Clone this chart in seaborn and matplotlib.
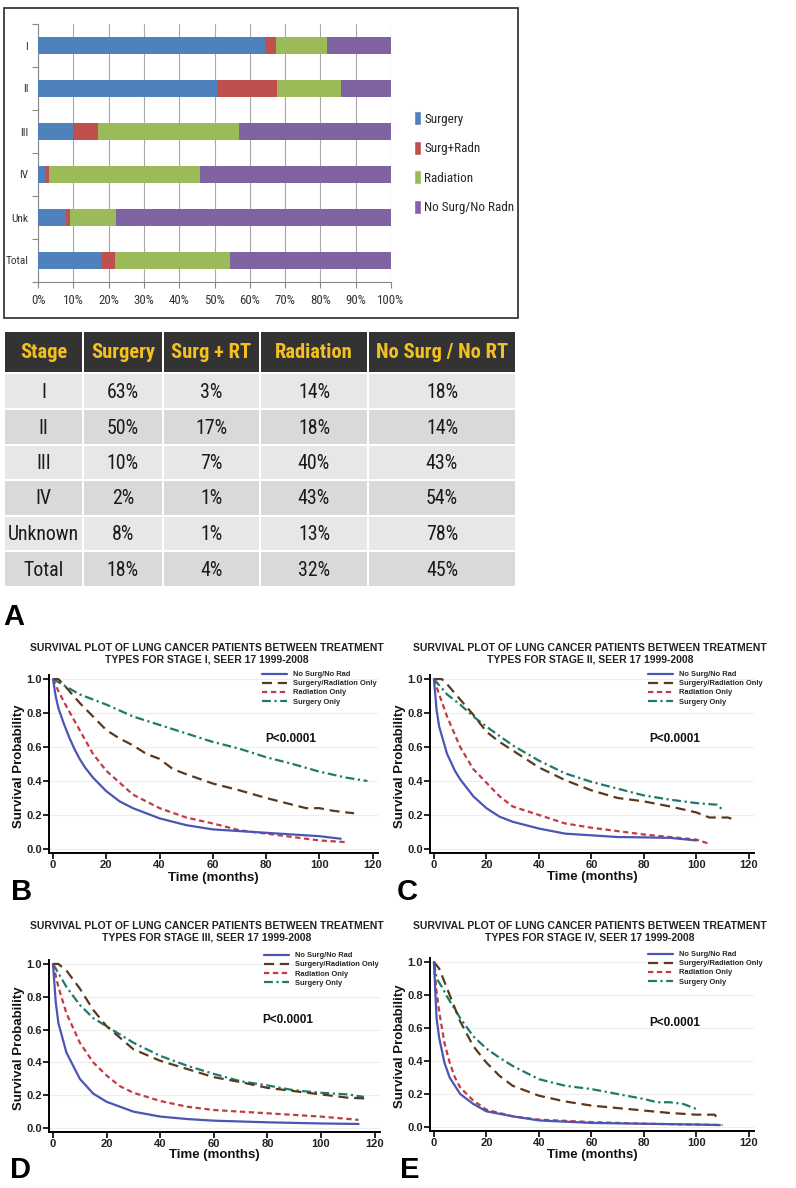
import numpy as np
import pandas as pd
import matplotlib
matplotlib.use("Agg")
import matplotlib.pyplot as plt
import seaborn as sns
from matplotlib.patches import Rectangle, Patch
from matplotlib import font_manager as fm
from matplotlib.font_manager import FontProperties

# ---------------- data: stacked bar chart (percent of patients) ----------------
stages = ["I", "II", "III", "IV", "Unk", "Total"]
bar_surgery = [64.3, 50.6, 10.0, 1.9, 8.0, 18.0]
bar_surg_radn = [3.0, 17.1, 7.0, 1.1, 1.0, 3.8]
bar_radiation = [14.5, 18.2, 40.0, 43.0, 13.1, 32.5]
bar_no_surg = [18.2, 14.1, 43.0, 54.0, 77.9, 45.7]
bar_labels = ["Surgery", "Surg+Radn", "Radiation", "No Surg/No Radn"]

# ---------------- data: table ----------------
tbl_header = ["Stage", "Surgery", "Surg + RT", "Radiation", "No Surg / No RT"]
tbl_stage = ["I", "II", "III", "IV", "Unknown", "Total"]
tbl_surgery = ["63%", "50%", "10%", "2%", "8%", "18%"]
tbl_surg_rt = ["3%", "17%", "7%", "1%", "1%", "4%"]
tbl_radiation = ["14%", "18%", "40%", "43%", "13%", "32%"]
tbl_none = ["18%", "14%", "43%", "54%", "78%", "45%"]

# ---------------- data: survival curves ----------------
curve_labels = ["No Surg/No Rad", "Surgery/Radiation Only", "Radiation Only", "Surgery Only"]

# Stage I (B)
b_t_none = [0, 1, 2, 4, 6, 8, 10, 12, 15, 20, 25, 30, 40, 50, 60, 70, 80, 90, 100, 108]
b_s_none = [1.0, 0.90, 0.83, 0.74, 0.66, 0.59, 0.53, 0.48, 0.42, 0.34, 0.28, 0.24, 0.18, 0.14, 0.115, 0.105, 0.095, 0.085, 0.075, 0.06]
b_t_sr = [0, 2, 5, 10, 15, 20, 25, 30, 35, 40, 45, 50, 60, 70, 80, 90, 95, 100, 105, 110, 113]
b_s_sr = [1.0, 1.0, 0.95, 0.86, 0.78, 0.70, 0.65, 0.61, 0.56, 0.53, 0.47, 0.44, 0.385, 0.345, 0.30, 0.26, 0.24, 0.24, 0.225, 0.215, 0.21]
b_t_rad = [0, 2, 5, 10, 15, 20, 25, 30, 40, 50, 60, 70, 80, 90, 100, 110]
b_s_rad = [1.0, 0.93, 0.84, 0.70, 0.56, 0.46, 0.39, 0.32, 0.24, 0.185, 0.15, 0.11, 0.09, 0.07, 0.05, 0.04]
b_t_surg = [0, 10, 20, 30, 40, 50, 60, 70, 80, 90, 100, 110, 118]
b_s_surg = [1.0, 0.91, 0.85, 0.78, 0.73, 0.68, 0.63, 0.59, 0.54, 0.50, 0.455, 0.42, 0.40]

# Stage II (C)
c_t_none = [0, 1, 2, 5, 8, 10, 15, 20, 25, 30, 40, 50, 60, 70, 80, 90, 100]
c_s_none = [1.0, 0.82, 0.72, 0.56, 0.46, 0.41, 0.31, 0.24, 0.19, 0.16, 0.12, 0.09, 0.08, 0.07, 0.068, 0.065, 0.05]
c_t_sr = [0, 3, 5, 10, 15, 20, 25, 30, 40, 50, 60, 70, 80, 90, 100, 105, 112, 115]
c_s_sr = [1.0, 1.0, 0.97, 0.88, 0.79, 0.69, 0.63, 0.58, 0.48, 0.405, 0.345, 0.30, 0.28, 0.25, 0.215, 0.185, 0.185, 0.17]
c_t_rad = [0, 2, 5, 10, 15, 20, 25, 30, 40, 50, 60, 70, 80, 90, 100, 105]
c_s_rad = [1.0, 0.91, 0.78, 0.60, 0.47, 0.39, 0.31, 0.25, 0.20, 0.15, 0.125, 0.105, 0.085, 0.07, 0.055, 0.03]
c_t_surg = [0, 5, 10, 15, 20, 30, 40, 50, 60, 70, 80, 90, 100, 108, 110]
c_s_surg = [1.0, 0.91, 0.85, 0.78, 0.72, 0.61, 0.52, 0.445, 0.395, 0.355, 0.315, 0.29, 0.27, 0.26, 0.23]

# Stage III (D)
d_t_none = [0, 1, 2, 5, 10, 15, 20, 30, 40, 50, 60, 80, 100, 114]
d_s_none = [1.0, 0.77, 0.64, 0.46, 0.30, 0.21, 0.16, 0.10, 0.07, 0.055, 0.045, 0.035, 0.028, 0.025]
d_t_sr = [0, 2, 5, 10, 15, 20, 25, 30, 40, 50, 60, 70, 80, 90, 100, 110, 117]
d_s_sr = [1.0, 1.0, 0.96, 0.85, 0.72, 0.62, 0.55, 0.48, 0.41, 0.36, 0.31, 0.28, 0.245, 0.225, 0.205, 0.185, 0.18]
d_t_rad = [0, 2, 5, 10, 15, 20, 25, 30, 40, 50, 60, 70, 80, 100, 114]
d_s_rad = [1.0, 0.86, 0.70, 0.52, 0.40, 0.32, 0.255, 0.215, 0.165, 0.13, 0.11, 0.10, 0.09, 0.07, 0.05]
d_t_surg = [0, 5, 10, 15, 20, 30, 40, 50, 60, 70, 80, 90, 100, 110, 116]
d_s_surg = [1.0, 0.86, 0.75, 0.67, 0.62, 0.52, 0.44, 0.38, 0.33, 0.285, 0.26, 0.23, 0.215, 0.205, 0.19]

# Stage IV (E)
e_t_none = [0, 1, 2, 4, 6, 8, 10, 15, 20, 30, 40, 60, 80, 100, 109]
e_s_none = [1.0, 0.66, 0.54, 0.39, 0.30, 0.25, 0.20, 0.14, 0.095, 0.065, 0.04, 0.025, 0.02, 0.015, 0.012]
e_t_sr = [0, 2, 5, 10, 15, 20, 25, 30, 40, 50, 60, 70, 80, 90, 100, 107, 108]
e_s_sr = [1.0, 0.96, 0.84, 0.64, 0.49, 0.39, 0.31, 0.25, 0.19, 0.155, 0.13, 0.115, 0.10, 0.085, 0.075, 0.075, 0.055]
e_t_rad = [0, 1, 2, 4, 6, 8, 10, 15, 20, 30, 40, 60, 80, 100, 110]
e_s_rad = [1.0, 0.82, 0.70, 0.51, 0.39, 0.30, 0.24, 0.16, 0.105, 0.065, 0.045, 0.03, 0.02, 0.015, 0.012]
e_t_surg = [0, 1, 3, 5, 10, 15, 20, 25, 30, 40, 50, 60, 70, 80, 85, 90, 95, 100]
e_s_surg = [1.0, 0.90, 0.85, 0.79, 0.66, 0.55, 0.475, 0.42, 0.37, 0.29, 0.25, 0.23, 0.20, 0.17, 0.15, 0.15, 0.14, 0.11]

panel_stage_names = ["I", "II", "III", "IV"]
p_value_text = "P<0.0001"

# ---------------- styling ----------------
sns.set_theme(style="white")
plt.rcParams["font.family"] = ["Liberation Sans", "DejaVu Sans"]


def _wt(w):
    return fm.weight_dict.get(w, 400) if isinstance(w, str) else int(w)


def _st(s):
    return fm.stretch_dict.get(s, 500) if isinstance(s, str) else int(s)


def find_narrow(bold):
    pref = ["liberation sans", "arial", "roboto", "open sans", "noto sans", "dejavu sans", "lato"]
    best, best_rank = None, 99
    for f in fm.fontManager.ttflist:
        nm, fn = f.name.lower(), f.fname.lower()
        cond = _st(f.stretch) < 500 or "narrow" in nm or "condensed" in nm or "narrow" in fn or "condensed" in fn
        if not cond or "mono" in nm or "serif" in nm.replace("sans", "") or f.style != "normal":
            continue
        if "cjk" in nm:
            continue
        w = _wt(f.weight)
        if bold and w < 600:
            continue
        if not bold and (w < 350 or w > 500):
            continue
        rank = next((i for i, p in enumerate(pref) if nm.startswith(p)), 50)
        if rank < best_rank:
            best, best_rank = f.fname, rank
    return best


_nr, _nb = find_narrow(False), find_narrow(True)
FP_REG = FontProperties(fname=_nr) if _nr else FontProperties(family="Liberation Sans")
FP_BOLD = FontProperties(fname=_nb) if _nb else FontProperties(family="Liberation Sans", weight="bold")

W, H = 796, 1188
fig = plt.figure(figsize=(W / 100, H / 100), dpi=100)
fig.patch.set_facecolor("white")
renderer = fig.canvas.get_renderer()


def fit_size(text, fp, target_px, max_size):
    t = fig.text(0, 0, text, fontproperties=fp, fontsize=10)
    w = t.get_window_extent(renderer).width
    t.remove()
    return min(max_size, 10 * target_px / w)


def fprop(fp, size):
    p = fp.copy()
    p.set_size(size)
    return p


def ax_px(l, t, r, b):
    return fig.add_axes([l / W, 1 - b / H, (r - l) / W, (b - t) / H])


# ---------------- top stacked bar chart ----------------
bar_colors = ["#4F81BD", "#C0504D", "#9BBB59", "#8064A2"]
fig.add_artist(Rectangle((4 / W, 1 - 318 / H), 514 / W, 310 / H, transform=fig.transFigure,
                         fill=False, edgecolor="#3a3a3a", lw=1.3))
bar = ax_px(38, 24, 391, 282)
layers = np.cumsum(np.vstack([bar_surgery, bar_surg_radn, bar_radiation, bar_no_surg]), axis=0)
for i in reversed(range(4)):
    sns.barplot(x=layers[i], y=stages, orient="h", color=bar_colors[i], width=0.4,
                saturation=1, errorbar=None, linewidth=0, ax=bar, zorder=3)
bar.set_xlim(0, 100)
bar.set_ylim(5.5, -0.5)
tick_fp = fprop(FP_REG, fit_size("100%", FP_REG, 27, 11))
ylab_fp = fprop(FP_REG, fit_size("Total", FP_REG, 23, 11.5))
bar.set_xticks(np.arange(0, 101, 10))
bar.set_xticklabels([f"{v}%" for v in range(0, 101, 10)], fontproperties=tick_fp, color="#333")
bar.set_yticks(range(len(stages)))
bar.set_yticklabels(stages, fontproperties=ylab_fp, color="#333")
bar.set_yticks(np.arange(-0.5, len(stages), 1), minor=True)
bar.tick_params(axis="y", which="major", length=0, pad=7)
bar.tick_params(axis="y", which="minor", length=4, color="#888", left=True, width=0.8)
bar.tick_params(axis="x", which="major", length=4, color="#888", bottom=True, width=0.8, pad=5)
bar.xaxis.grid(True, color="#A8A8A8", lw=0.8)
bar.set_axisbelow(True)
for s in ["top", "right"]:
    bar.spines[s].set_visible(False)
for s in ["left", "bottom"]:
    bar.spines[s].set_color("#888")
    bar.spines[s].set_linewidth(0.8)
bar.set_xlabel("")
bar.set_ylabel("")
leg_fp = fprop(FP_REG, fit_size("No Surg/No Radn", FP_REG, 90, 13))
fig.legend(handles=[Patch(facecolor=c, label=l) for c, l in zip(bar_colors, bar_labels)],
           loc="upper left", bbox_to_anchor=(414 / W, 1 - 111 / H), frameon=False,
           prop=leg_fp, handlelength=0.5, handleheight=1.3,
           handletextpad=0.3, labelspacing=1.15, borderpad=0, borderaxespad=0)

# ---------------- table ----------------
ov = fig.add_axes([0, 0, 1, 1])
ov.set_xlim(0, W)
ov.set_ylim(H, 0)
ov.axis("off")
ov.patch.set_visible(False)

hdr_fp = fprop(FP_BOLD, fit_size("No Surg / No RT", FP_BOLD, 132, 16))
val_fp = fprop(FP_REG, fit_size("Unknown", FP_REG, 72, 17))
col_edges = [4, 83, 163, 260, 368, 516]
row_edges = [332, 374, 410, 446, 481, 517, 552, 588]
gap = 1.6
for j in range(5):
    x0, x1 = col_edges[j], col_edges[j + 1]
    ov.add_patch(Rectangle((x0 + gap / 2, row_edges[0]), x1 - x0 - gap, row_edges[1] - row_edges[0] - gap,
                           facecolor="#333333", edgecolor="none"))
    ov.text((x0 + x1) / 2, (row_edges[0] + row_edges[1]) / 2 - 1, tbl_header[j], ha="center", va="center",
            fontproperties=hdr_fp, color="#F4C01E")
columns = [tbl_stage, tbl_surgery, tbl_surg_rt, tbl_radiation, tbl_none]
for i in range(6):
    y0, y1 = row_edges[i + 1], row_edges[i + 2]
    fill = "#E7E7E9" if i % 2 == 0 else "#D9D9D9"
    for j in range(5):
        x0, x1 = col_edges[j], col_edges[j + 1]
        ov.add_patch(Rectangle((x0 + gap / 2, y0), x1 - x0 - gap, y1 - y0 - gap,
                               facecolor=fill, edgecolor="none"))
        ov.text((x0 + x1) / 2, (y0 + y1) / 2, columns[j][i], ha="center", va="center",
                fontproperties=val_fp, color="#1a1a1a")

# panel letters
for letter, (lx, ly) in zip("ABCDE", [(3, 625), (11, 900), (397, 900), (10, 1178), (400, 1178)]):
    ov.text(lx, ly, letter, fontsize=21, fontweight="bold", ha="left", va="baseline", color="black")

# ---------------- survival panels ----------------
line_colors = ["#4B55B3", "#5A3A1E", "#C23B45", "#1F7A6C"]
line_dashes = [None, (4.5, 2.6), (2.4, 1.6), (4.0, 1.6, 1.0, 1.6)]

panels = [
    dict(box=(49, 675, 378, 853), data=[(b_t_none, b_s_none), (b_t_sr, b_s_sr), (b_t_rad, b_s_rad), (b_t_surg, b_s_surg)],
         title_xy=(207, 654), leg=(262, 671), p=(79.5, 0.65), ylab_x=19, xlab_y=878),
    dict(box=(430, 675, 754, 853), data=[(c_t_none, c_s_none), (c_t_sr, c_s_sr), (c_t_rad, c_s_rad), (c_t_surg, c_s_surg)],
         title_xy=(590, 654), leg=(648, 671), p=(82, 0.65), ylab_x=400, xlab_y=877),
    dict(box=(49, 960, 380, 1132), data=[(d_t_none, d_s_none), (d_t_sr, d_s_sr), (d_t_rad, d_s_rad), (d_t_surg, d_s_surg)],
         title_xy=(207, 932), leg=(264, 952), p=(78, 0.66), ylab_x=19, xlab_y=1155),
    dict(box=(430, 958, 754, 1131), data=[(e_t_none, e_s_none), (e_t_sr, e_s_sr), (e_t_rad, e_s_rad), (e_t_surg, e_s_surg)],
         title_xy=(590, 932), leg=(648, 951), p=(82, 0.63), ylab_x=400, xlab_y=1155),
]

for stage, pn in zip(panel_stage_names, panels):
    l, t, r, b = pn["box"]
    ax = ax_px(l, t, r, b)
    ax.set_facecolor("white")
    for k, (tt, ss) in enumerate(pn["data"]):
        sns.lineplot(x=tt, y=ss, ax=ax, color=line_colors[k], lw=1.6, label=curve_labels[k], zorder=3 + (3 - k))
    for k, line in enumerate(ax.get_lines()):
        if line_dashes[k] is not None:
            line.set_dashes(line_dashes[k])
    ax.set_xlim(-1.5, 122)
    ax.set_ylim(-0.024, 1.024)
    ax.set_xticks(np.arange(0, 121, 20))
    ax.set_yticks(np.arange(0, 1.01, 0.2))
    ax.set_yticklabels([f"{v:.1f}" for v in np.arange(0, 1.01, 0.2)])
    ax.yaxis.grid(True, color="#EDEDED", lw=0.8)
    ax.set_axisbelow(True)
    for s in ["top", "right"]:
        ax.spines[s].set_visible(False)
    for s in ["left", "bottom"]:
        ax.spines[s].set_color("black")
        ax.spines[s].set_linewidth(1.4)
    ax.tick_params(axis="both", which="major", length=4, width=1.2, color="black", direction="out",
                   labelsize=8, pad=1.2, bottom=True, left=True)
    for lab in ax.get_xticklabels() + ax.get_yticklabels():
        lab.set_fontweight("bold")
        lab.set_color("#222")
    ax.set_xlabel("Time (months)", fontsize=9.5, fontweight="bold", color="#111")
    ax.xaxis.set_label_coords(0.5, (b - pn["xlab_y"]) / (b - t))
    ax.xaxis.label.set_verticalalignment("center")
    ax.set_ylabel("Survival Probability", fontsize=9.5, fontweight="bold", color="#111")
    ax.yaxis.set_label_coords((pn["ylab_x"] - l) / (r - l), 0.49)
    ax.yaxis.label.set_verticalalignment("center")
    fig.text(pn["title_xy"][0] / W, 1 - pn["title_xy"][1] / H,
             "SURVIVAL PLOT OF LUNG CANCER PATIENTS BETWEEN TREATMENT\n"
             f"TYPES FOR STAGE {stage}, SEER 17 1999-2008",
             ha="center", va="center", fontsize=7.5, fontweight="bold", color="#222", linespacing=1.25)
    ax.text(pn["p"][0], pn["p"][1], p_value_text, fontsize=8.5, fontweight="bold", ha="left", va="center", color="#111")
    ax.legend(loc="upper left", bbox_to_anchor=(pn["leg"][0] / W, 1 - pn["leg"][1] / H),
              bbox_transform=fig.transFigure, frameon=False, prop={"size": 5.4, "weight": "bold"},
              handlelength=3.3, handletextpad=0.8, labelspacing=0.25, borderpad=0, borderaxespad=0)

fig.savefig("out.png", dpi=100, facecolor="white")
